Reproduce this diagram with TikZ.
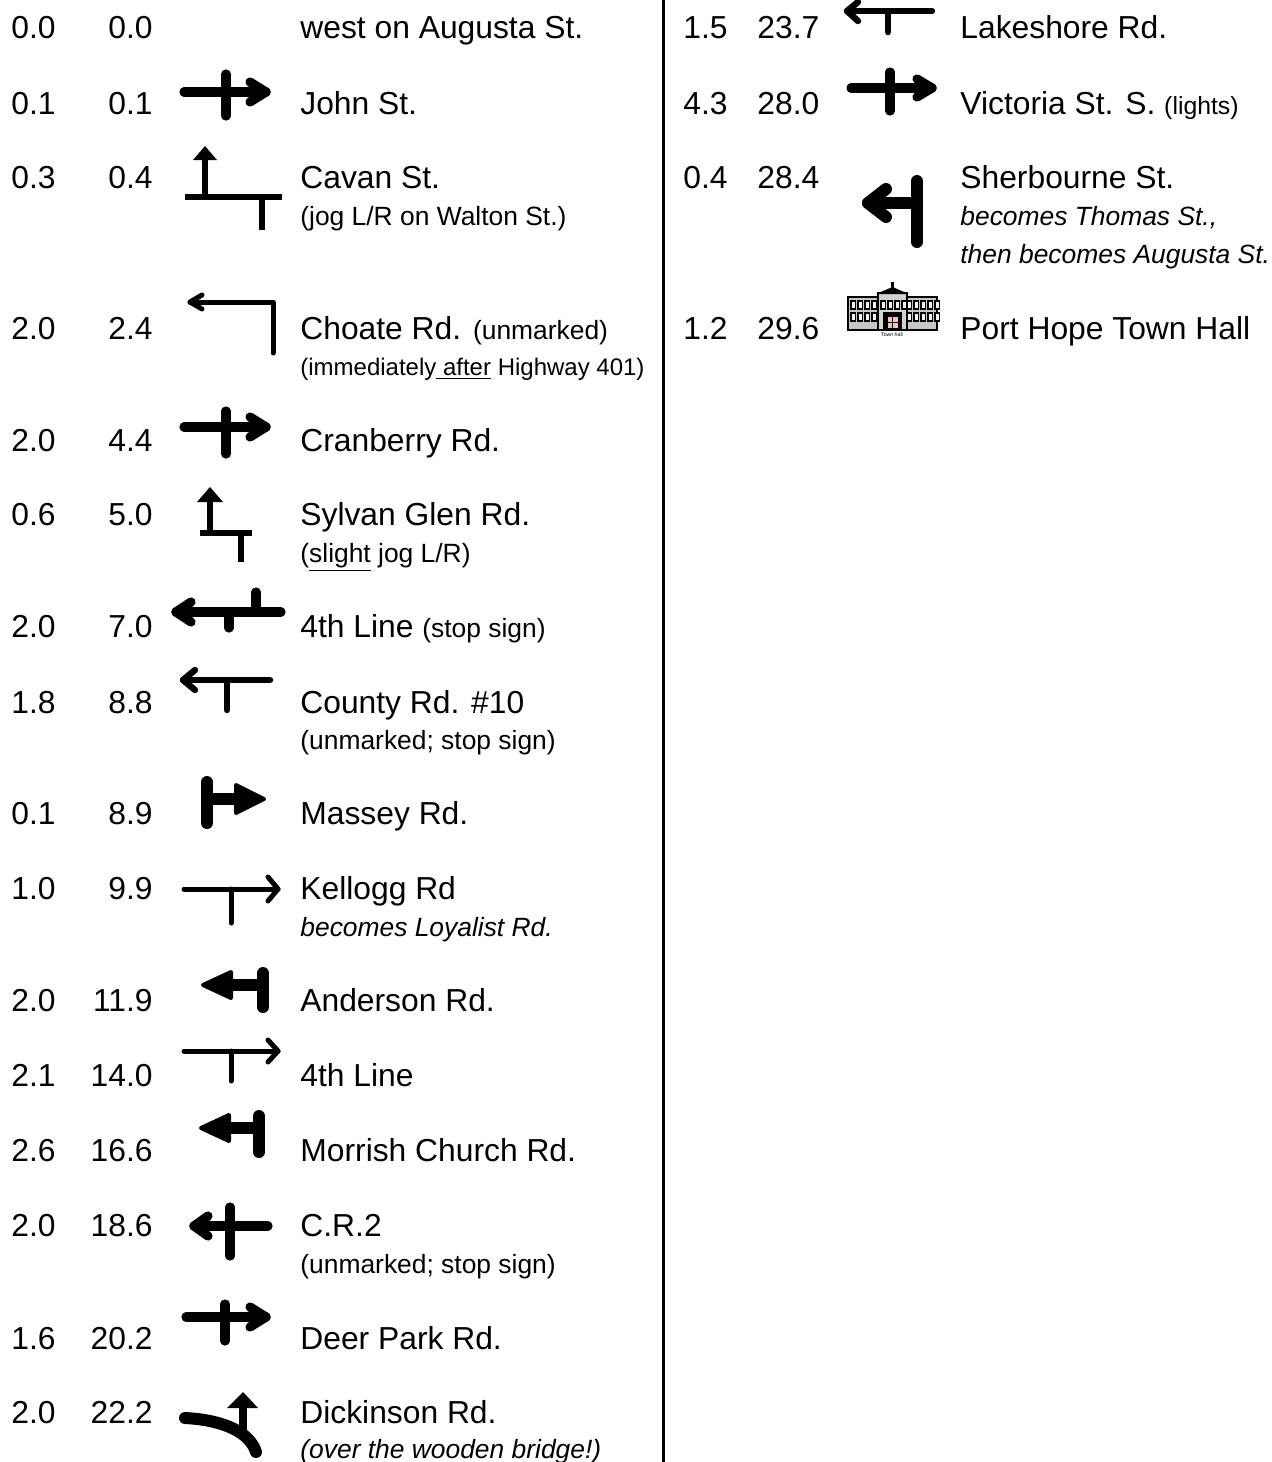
\documentclass[tikz,border=0pt]{standalone}
\usepackage{fontspec}
\setmainfont{Liberation Sans}
\usepackage{tikz}

\newcommand{\rowfont}{\fontsize{15.9}{19}\selectfont}
\newcommand{\notefont}{\fontsize{13.2}{16}\selectfont}

\tikzset{
  dist/.style={inner sep=0pt, anchor=base west, font=\rowfont},
  distr/.style={inner sep=0pt, anchor=base east, font=\rowfont},
  road/.style={inner sep=0pt, anchor=base west, font=\rowfont},
  note/.style={inner sep=0pt, anchor=base west, font=\notefont},
  heavy/.style={line width=4.6pt, line cap=round, line join=round},
  medium/.style={line width=3.2pt, line cap=round, line join=round},
  light/.style={line width=2.5pt, line cap=round, line join=round},
  plain/.style={line width=2.6pt},
  bar/.style={line width=6pt, line cap=round},
  blob/.style={fill, line width=2pt, line join=round},
  window/.style={fill=gray!10, draw=black, line width=0.7pt},
}

\begin{document}
\begin{tikzpicture}[x=0.5pt, y=-0.5pt]
  \useasboundingbox (0,0) rectangle (1272,1462);

  % divider
  \coordinate (divtop) at (663,0);
  \coordinate (divbot) at (663,1462);
  \draw[line width=1.5pt] (divtop) -- (divbot);

  % left column
  \node(l1a) [dist] at (11,38.5) {0.0};
  \node(l1b) [distr] at (153,38.5) {0.0};
  \node(l1t) [road] at (300,38.5) {west on Augusta St.};

  \node(l2a) [dist] at (11,114.5) {0.1};
  \node(l2b) [distr] at (153,114.5) {0.1};
  \node(l2t) [road] at (300,114.5) {John St.};

  \node(l3a) [dist] at (11,188.5) {0.3};
  \node(l3b) [distr] at (153,188.5) {0.4};
  \node(l3t) [road] at (300,188.5) {Cavan St.};
  \node(l3n) [note] at (300,225.5) {(jog L/R on Walton St.)};

  \node(l4a) [dist] at (11,339.5) {2.0};
  \node(l4b) [distr] at (153,339.5) {2.4};
  \node(l4t) [road] at (300,339.5) {Choate Rd. {\notefont (unmarked)}};
  \node(l4n) [note, font=\fontsize{12}{14}\selectfont] at (300,375.5) {(immediately\underline{ after} Highway 401)};

  \node(l5a) [dist] at (11,451.5) {2.0};
  \node(l5b) [distr] at (153,451.5) {4.4};
  \node(l5t) [road] at (300,451.5) {Cranberry Rd.};

  \node(l6a) [dist] at (11,525.5) {0.6};
  \node(l6b) [distr] at (153,525.5) {5.0};
  \node(l6t) [road] at (300,525.5) {Sylvan Glen Rd.};
  \node(l6n) [note] at (300,562.5) {(\underline{slight} jog L/R)};

  \node(l7a) [dist] at (11,637.5) {2.0};
  \node(l7b) [distr] at (153,637.5) {7.0};
  \node(l7t) [road] at (300,637.5) {4th Line {\notefont (stop sign)}};

  \node(l8a) [dist] at (11,713.5) {1.8};
  \node(l8b) [distr] at (153,713.5) {8.8};
  \node(l8t) [road] at (300,713.5) {County Rd. \#10};
  \node(l8n) [note] at (300,749.5) {(unmarked; stop sign)};

  \node(l9a) [dist] at (11,824.5) {0.1};
  \node(l9b) [distr] at (153,824.5) {8.9};
  \node(l9t) [road] at (300,824.5) {Massey Rd.};

  \node(l10a) [dist] at (11,899.5) {1.0};
  \node(l10b) [distr] at (153,899.5) {9.9};
  \node(l10t) [road] at (300,899.5) {Kellogg Rd};
  \node(l10n) [note] at (300,936.5) {\itshape becomes Loyalist Rd.};

  \node(l11a) [dist] at (11,1011.5) {2.0};
  \node(l11b) [distr] at (153,1011.5) {11.9};
  \node(l11t) [road] at (300,1011.5) {Anderson Rd.};

  \node(l12a) [dist] at (11,1086.5) {2.1};
  \node(l12b) [distr] at (153,1086.5) {14.0};
  \node(l12t) [road] at (300,1086.5) {4th Line};

  \node(l13a) [dist] at (11,1161.5) {2.6};
  \node(l13b) [distr] at (153,1161.5) {16.6};
  \node(l13t) [road] at (300,1161.5) {Morrish Church Rd.};

  \node(l14a) [dist] at (11,1236.5) {2.0};
  \node(l14b) [distr] at (153,1236.5) {18.6};
  \node(l14t) [road] at (300,1236.5) {C.R.2};
  \node(l14n) [note] at (300,1273.5) {(unmarked; stop sign)};

  \node(l15a) [dist] at (11,1349.5) {1.6};
  \node(l15b) [distr] at (153,1349.5) {20.2};
  \node(l15t) [road] at (300,1349.5) {Deer Park Rd.};

  \node(l16a) [dist] at (11,1423.5) {2.0};
  \node(l16b) [distr] at (153,1423.5) {22.2};
  \node(l16t) [road] at (300,1423.5) {Dickinson Rd.};
  \node(l16n) [note] at (300,1458.5) {\itshape (over the wooden bridge!)};

  % right column
  \node(r1a) [dist] at (683,38.5) {1.5};
  \node(r1b) [dist] at (757,38.5) {23.7};
  \node(r1t) [road] at (960,38.5) {Lakeshore Rd.};

  \node(r2a) [dist] at (683,114.5) {4.3};
  \node(r2b) [dist] at (757,114.5) {28.0};
  \node(r2t) [road] at (960,114.5) {Victoria St. S. {\fontsize{12.4}{14}\selectfont (lights)}};

  \node(r3a) [dist] at (683,188.5) {0.4};
  \node(r3b) [dist] at (757,188.5) {28.4};
  \node(r3t) [road] at (960,188.5) {Sherbourne St.};
  \node(r3n) [note] at (960,225.5) {\itshape becomes Thomas St.,};
  \node(r3m) [note] at (960,263.5) {\itshape then becomes Augusta St.};

  \node(r4a) [dist] at (683,339.5) {1.2};
  \node(r4b) [dist] at (757,339.5) {29.6};
  \node(r4t) [road] at (960,339.5) {Port Hope Town Hall};

  % turn signs, left column
  \draw[heavy] (184,92) -- (266,92);
  \draw[heavy] (226,74) -- (226,116);
  \draw[heavy] (250,82) -- (266,92) -- (250,102);

  \draw[plain] (205,160) -- (205,197);
  \fill (193,160) -- (217,160) -- (205,146) -- cycle;
  \draw[plain] (185,197) -- (282,197);
  \draw[plain] (262,197) -- (262,230);

  \draw[light] (190,302) -- (273,302) -- (273,353);
  \draw[light] (202,295) -- (190,302) -- (202,309);

  \draw[heavy] (184,427) -- (266,427);
  \draw[heavy] (226,411) -- (226,454);
  \draw[heavy] (250,417) -- (266,427) -- (250,437);

  \draw[plain] (210,502) -- (210,533);
  \fill (197,502) -- (223,502) -- (210,487) -- cycle;
  \draw[plain] (200,533) -- (252,533);
  \draw[plain] (241,533) -- (241,562);

  \draw[heavy] (176,612) -- (281,612);
  \draw[heavy] (191,602) -- (176,612) -- (191,622);
  \draw[heavy] (229,612) -- (229,628);
  \draw[heavy] (256,592) -- (256,612);

  \draw[medium] (183,680) -- (270,680);
  \draw[medium] (195,670) -- (183,680) -- (195,690);
  \draw[medium] (227,680) -- (227,710);

  \draw[bar] (207,782) -- (207,823);
  \draw[bar, line cap=butt] (207,799) -- (238,799);
  \draw[blob] (236,785) -- (264,799) -- (236,813) -- cycle;

  \draw[light] (184,889) -- (278,889);
  \draw[light] (268,877) -- (278,889) -- (268,901);
  \draw[light] (231,889) -- (231,923);

  \draw[bar] (263,973) -- (263,1007);
  \draw[bar, line cap=butt] (230,985) -- (263,985);
  \draw[blob] (231,972) -- (203,985) -- (231,998) -- cycle;

  \draw[light] (184,1051) -- (278,1051);
  \draw[light] (268,1040) -- (278,1051) -- (268,1062);
  \draw[light] (231,1051) -- (231,1081);

  \draw[bar] (259,1116) -- (259,1152);
  \draw[bar, line cap=butt] (228,1128) -- (259,1128);
  \draw[blob] (229,1115) -- (201,1128) -- (229,1141) -- cycle;

  \draw[heavy] (194,1226) -- (268,1226);
  \draw[heavy] (208,1216) -- (194,1226) -- (208,1236);
  \draw[heavy] (230,1207) -- (230,1256);

  \draw[heavy] (186,1317) -- (266,1317);
  \draw[heavy] (225,1304) -- (225,1341);
  \draw[heavy] (250,1307) -- (266,1317) -- (250,1327);

  \draw[bar] (185,1418) .. controls (225,1420) and (250,1433) .. (256,1452);
  \draw[line width=3.6pt] (243,1432) -- (243,1406);
  \fill (227,1408) -- (258,1408) -- (243,1392) -- cycle;

  % turn signs, right column
  \draw[medium] (847,11) -- (932,11);
  \draw[medium] (858,2) -- (847,11) -- (858,21);
  \draw[medium] (888,11) -- (888,32);

  \draw[heavy] (851,88) -- (932,88);
  \draw[heavy] (890,72) -- (890,111);
  \draw[heavy] (917,79) -- (932,88) -- (917,97);

  \draw[bar] (917,181) -- (917,242);
  \draw[bar] (868,203) -- (917,203);
  \draw[bar, line join=round] (886,189) -- (868,203) -- (886,217);

  % town hall
  \draw[fill=gray!45, line width=0.8pt] (848,297) rectangle (937,330);
  \foreach \wx in {851,858,...,935}
    \foreach \wy in {301,313}
      \draw[window] (\wx,\wy) rectangle +(4.5,8);
  \draw[fill=gray!35, line width=1.2pt] (878,293) rectangle (907,330);
  \foreach \wx in {881,888,...,904}
    \draw[window] (\wx,301) rectangle +(4.5,8);
  \fill (876,294) -- (892.5,287) -- (909,294) -- cycle;
  \fill (891,282) rectangle (894,288);
  \fill (883,312) rectangle (902,330);
  \draw[fill=red!25, line width=0.3pt] (887,316) rectangle (898,328);
  \draw[line width=0.3pt] (892.5,316) -- (892.5,328) (887,322) -- (898,322);
  \node(hall) [inner sep=0pt, font=\fontsize{2.6}{3}\selectfont] at (892,335) {Town hall};
\end{tikzpicture}
\end{document}
